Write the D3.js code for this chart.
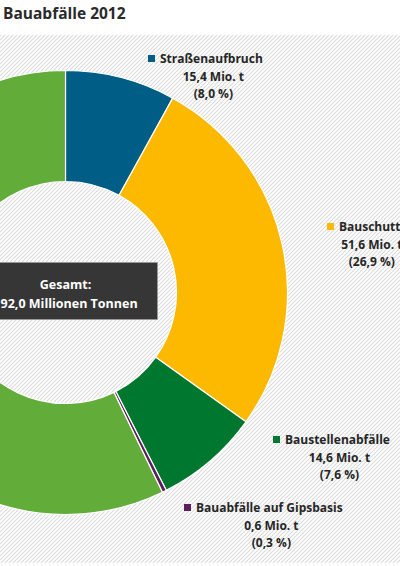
<!DOCTYPE html>
<html>
<head>
<meta charset="utf-8">
<script src="https://cdn.jsdelivr.net/npm/d3@7"></script>
<style>
  html, body { margin: 0; padding: 0; background: #fff; }
  svg { display: block; font-family: "Open Sans", sans-serif; }
</style>
</head>
<body>
<div id="chart"></div>
<script>
// Bauabfälle 2012, Mio. t
const categories = ["Straßenaufbruch", "Bauschutt", "Baustellenabfälle", "Bauabfälle auf Gipsbasis", "Boden, Steine und Baggergut"];
const values = [15.4, 51.6, 14.6, 0.6, 109.8];
const shares = [8.0, 26.9, 7.6, 0.3, 57.2];
const colors = ["#005e86", "#fdb900", "#00772f", "#5b1f5e", "#62ad3a"];

// where each label block sits (marker left, first line middle); last one is off the crop
const labelAnchor = [[148, 59], [327, 227], [273, 440], [184, 508], null];

const width = 400, height = 566;
const cx = 65.5, cy = 292.5;
const outerRadius = 222, innerRadius = 111;

const de = d3.formatLocale({decimal: ",", thousands: ".", grouping: [3], currency: ["", " €"]});
const f1 = de.format(".1f");

const data = categories.map((name, i) => ({name, value: values[i], share: shares[i], color: colors[i], anchor: labelAnchor[i]}));

const svg = d3.select("#chart").append("svg")
    .attr("width", width)
    .attr("height", height)
    .attr("viewBox", [0, 0, width, height]);

// hatched background
const defs = svg.append("defs");
defs.append("pattern")
    .attr("id", "hatch")
    .attr("patternUnits", "userSpaceOnUse")
    .attr("width", 4)
    .attr("height", 4)
  .append("path")
    .attr("d", "M-1,1 l2,-2 M0,4 l4,-4 M3,5 l2,-2")
    .attr("stroke", "#dadada")
    .attr("stroke-width", 1.1);

svg.append("rect")
    .attr("x", 0)
    .attr("y", 35)
    .attr("width", width)
    .attr("height", 528)
    .attr("fill", "#fff");
svg.append("rect")
    .attr("x", 0)
    .attr("y", 35)
    .attr("width", width)
    .attr("height", 528)
    .attr("fill", "url(#hatch)");

svg.append("text")
    .attr("x", 3)
    .attr("y", 19)
    .attr("font-size", 15.5)
    .attr("font-weight", 700)
    .attr("fill", "#2a2a2a")
    .text("Bauabfälle 2012");

const pie = d3.pie().sort(null).value(d => d.value);
const arc = d3.arc().innerRadius(innerRadius).outerRadius(outerRadius);

const g = svg.append("g").attr("transform", `translate(${cx},${cy})`);

g.selectAll("path")
  .data(pie(data))
  .join("path")
    .attr("d", arc)
    .attr("fill", d => d.data.color)
    .attr("stroke", "#fff")
    .attr("stroke-width", 1.2)
    .attr("stroke-linejoin", "round");

// total box in the middle
const box = g.append("g");
box.append("rect")
    .attr("x", -93)
    .attr("y", -30)
    .attr("width", 185)
    .attr("height", 57)
    .attr("fill", "#363636")
    .attr("stroke", "#9a9a9a")
    .attr("stroke-width", 0.8);
box.append("text")
    .attr("text-anchor", "middle")
    .attr("y", -8)
    .attr("dy", "0.35em")
    .attr("font-size", 12.5)
    .attr("font-weight", 700)
    .attr("fill", "#fff")
    .text("Gesamt:");
box.append("text")
    .attr("text-anchor", "middle")
    .attr("y", 11)
    .attr("dy", "0.35em")
    .attr("font-size", 12.5)
    .attr("font-weight", 700)
    .attr("fill", "#fff")
    .text(`${f1(d3.sum(values))} Millionen Tonnen`);

// labels
const labels = svg.append("g")
  .selectAll("g")
  .data(data.filter(d => d.anchor))
  .join("g")
    .attr("transform", d => `translate(${d.anchor[0]},${d.anchor[1]})`)
    .attr("font-size", 12)
    .attr("font-weight", 700)
    .attr("fill", "#262626");

labels.append("rect")
    .attr("x", 0)
    .attr("y", -4)
    .attr("width", 7)
    .attr("height", 7)
    .attr("fill", d => d.color);

labels.append("text")
    .attr("class", "name")
    .attr("x", 12)
    .attr("dy", "0.35em")
    .text(d => d.name);

labels.each(function(d) {
  const sel = d3.select(this);
  const w = sel.select("text.name").node().getComputedTextLength();
  const mid = 12 + w / 2 + 2;
  sel.append("text")
      .attr("x", mid)
      .attr("y", 17.5)
      .attr("dy", "0.35em")
      .attr("text-anchor", "middle")
      .text(`${f1(d.value)} Mio. t`);
  sel.append("text")
      .attr("x", mid)
      .attr("y", 35)
      .attr("dy", "0.35em")
      .attr("text-anchor", "middle")
      .text(`(${f1(d.share)} %)`);
});
</script>
</body>
</html>
